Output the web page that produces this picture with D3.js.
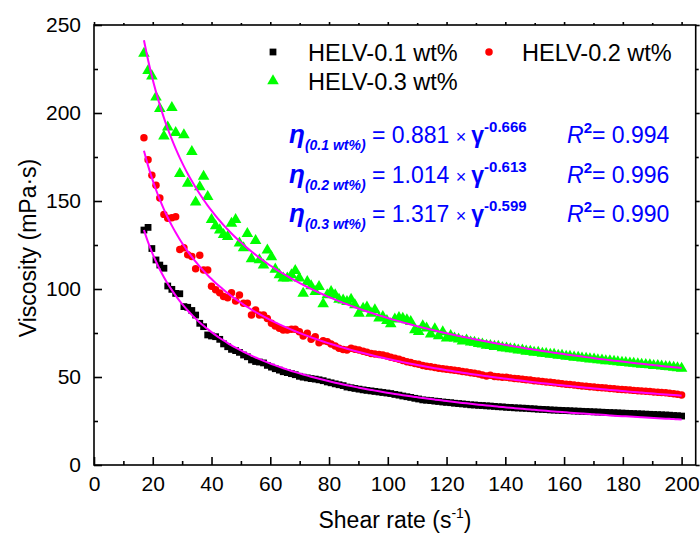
<!DOCTYPE html>
<html><head><meta charset="utf-8">
<script src="https://cdn.jsdelivr.net/npm/d3@7"></script>
<style>body{margin:0;background:#fff} svg{display:block} text{font-family:"Liberation Sans",Arial,Helvetica,sans-serif}</style>
</head><body><svg id="c" width="700" height="539"></svg>
<script>
const shearRate = [17.0,18.4,19.7,21.1,22.4,23.8,25.1,26.5,27.8,29.2,30.6,31.9,33.3,34.6,36.0,37.3,38.7,40.0,41.4,42.8,44.1,45.5,46.8,48.2,49.5,50.9,52.2,53.6,55.0,56.3,57.7,59.0,60.4,61.7,63.1,64.4,65.8,67.2,68.5,69.9,71.2,72.6,73.9,75.3,76.6,78.0,79.4,80.7,82.1,83.4,84.8,86.1,87.5,88.8,90.2,91.6,92.9,94.3,95.6,97.0,98.3,99.7,101.0,102.4,103.8,105.1,106.5,107.8,109.2,110.5,111.9,113.2,114.6,116.0,117.3,118.7,120.0,121.4,122.7,124.1,125.4,126.8,128.2,129.5,130.9,132.2,133.6,134.9,136.3,137.6,139.0,140.4,141.7,143.1,144.4,145.8,147.1,148.5,149.8,151.2,152.6,153.9,155.3,156.6,158.0,159.3,160.7,162.0,163.4,164.8,166.1,167.5,168.8,170.2,171.5,172.9,174.2,175.6,177.0,178.3,179.7,181.0,182.4,183.7,185.1,186.4,187.8,189.2,190.5,191.9,193.2,194.6,195.9,197.3,198.6,200.0];
const visc01 = [133.5,135.0,123.0,116.5,113.6,111.8,101.7,99.8,97.5,97.3,90.0,89.6,87.8,85.2,80.5,78.6,73.9,73.3,72.9,71.4,68.8,67.2,65.7,65.0,64.0,62.5,61.5,59.7,58.8,58.5,58.0,56.6,55.6,54.7,53.9,53.0,52.5,51.9,51.3,50.4,49.9,49.5,49.1,48.8,48.4,47.9,47.2,46.7,46.1,45.6,45.1,44.3,43.9,43.5,43.1,42.7,42.4,42.1,41.8,41.5,41.2,40.9,40.6,40.1,39.7,39.2,38.8,38.4,37.9,37.5,37.0,36.8,36.6,36.3,36.1,35.8,35.6,35.4,35.1,34.9,34.7,34.5,34.2,34.1,33.9,33.8,33.6,33.5,33.3,33.1,33.0,32.8,32.7,32.5,32.4,32.3,32.2,32.0,31.9,31.7,31.6,31.5,31.3,31.2,31.1,31.0,30.9,30.8,30.7,30.6,30.5,30.4,30.3,30.2,30.1,30.0,29.9,29.8,29.7,29.6,29.5,29.4,29.3,29.2,29.1,29.0,28.9,28.8,28.7,28.6,28.5,28.4,28.3,28.1,28.0,27.8];
const visc02 = [186.0,173.5,164.6,158.9,151.7,142.4,140.2,140.5,141.1,122.5,123.5,119.5,118.4,111.5,119.2,110.8,110.8,101.5,99.6,97.8,95.8,95.0,97.9,93.2,96.6,91.9,91.9,85.2,88.1,85.2,85.2,83.3,80.5,79.0,77.7,76.7,76.7,77.1,77.1,75.7,73.3,74.8,71.4,72.9,69.5,70.6,70.1,68.8,67.6,66.3,65.6,65.3,66.3,65.8,65.3,64.6,64.0,63.4,63.1,62.8,62.5,61.9,61.2,60.6,60.1,59.4,58.7,58.3,57.6,57.2,56.5,56.1,55.8,55.4,55.0,54.7,54.4,54.1,53.8,53.5,53.1,52.8,52.4,52.1,51.7,51.1,50.6,51.0,50.3,50.1,49.9,49.8,49.5,49.2,49.0,48.7,48.5,48.3,47.9,47.7,47.5,47.2,47.0,46.7,46.4,46.1,45.9,45.7,45.4,45.2,44.9,44.7,44.5,44.3,44.1,43.9,43.7,43.5,43.3,43.1,42.9,42.8,42.6,42.4,42.2,42.0,41.9,41.7,41.5,41.3,41.2,41.0,40.8,40.5,40.2,39.8];
const visc03 = [233.9,224.0,221.0,209.0,202.5,186.8,192.0,203.0,188.8,165.5,187.5,160.0,178.0,149.3,158.0,164.0,152.4,139.4,135.8,133.5,130.9,129.7,137.3,139.4,126.1,123.4,131.4,117.1,127.4,116.5,113.5,122.0,118.2,111.2,108.0,106.1,106.1,108.0,110.4,106.1,97.5,104.2,101.7,98.5,101.3,91.5,96.6,98.5,96.6,94.1,93.7,92.8,94.1,90.9,86.2,89.0,89.6,86.2,88.1,83.4,84.3,82.0,80.1,82.8,83.7,83.3,82.4,81.4,76.7,75.7,79.0,77.7,74.4,77.3,73.3,75.6,72.0,73.5,72.0,71.5,70.4,70.9,69.8,69.6,68.9,68.7,68.0,67.8,67.3,67.3,66.6,66.4,65.9,65.8,65.2,65.2,64.6,64.5,64.0,64.0,63.4,63.3,62.8,62.8,62.2,62.2,61.7,61.7,61.2,61.1,60.7,60.6,60.2,60.1,59.7,59.6,59.2,59.1,58.8,58.6,58.3,58.2,57.8,57.7,57.4,57.2,57.0,56.8,56.5,56.4,56.1,55.9,55.7,55.5,55.2,54.9];
const seriesNames = ["HELV-0.1 wt%","HELV-0.2 wt%","HELV-0.3 wt%"];
const seriesColors = ["#000000","#ff0000","#00ff00"];
const fitA = [0.881,1.014,1.317];
const fitB = [-0.666,-0.613,-0.599];
const fitR2 = ["0.994","0.996","0.990"];
const fitSub = ["(0.1 wt%)","(0.2 wt%)","(0.3 wt%)"];
const xTicks = [0,20,40,60,80,100,120,140,160,180,200];
const xMinor = [10,30,50,70,90,110,130,150,170,190];
const yTicks = [0,50,100,150,200,250];
const yMinor = [25,75,125,175,225];

const svg = d3.select("#c");
const L=94,R=695.7,T=25,B=465;
const x = d3.scaleLinear().domain([0,204.8]).range([L,R]);
const y = d3.scaleLinear().domain([0,250]).range([B,T]);

function styleAxis(g){g.selectAll("path,line").attr("stroke","#000").attr("stroke-width",1.6);g.select(".domain").remove();}
const gx = svg.append("g").attr("transform",`translate(0,${B})`)
  .call(d3.axisBottom(x).tickValues(xTicks).tickSize(-8).tickPadding(11).tickFormat(d3.format("d")));
gx.call(styleAxis); gx.selectAll("text").attr("font-size",21).attr("fill","#000");
svg.append("g").attr("transform",`translate(0,${B})`).call(d3.axisBottom(x).tickValues(xMinor).tickSize(-4).tickFormat("")).call(styleAxis);
const gy = svg.append("g").attr("transform",`translate(${L},0)`)
  .call(d3.axisLeft(y).tickValues(yTicks).tickSize(-8).tickPadding(13).tickFormat(d3.format("d")));
gy.call(styleAxis); gy.selectAll("text").attr("font-size",21).attr("fill","#000");
svg.append("g").attr("transform",`translate(${L},0)`).call(d3.axisLeft(y).tickValues(yMinor).tickSize(-4).tickFormat("")).call(styleAxis);
svg.append("g").attr("transform",`translate(0,${T})`).call(d3.axisTop(x).tickValues(xTicks).tickSize(3).tickFormat("")).call(styleAxis);
svg.append("g").attr("transform",`translate(0,${T})`).call(d3.axisTop(x).tickValues(xMinor).tickSize(2).tickFormat("")).call(styleAxis);
svg.append("g").attr("transform",`translate(${R},0)`).call(d3.axisRight(y).tickValues(yTicks).tickSize(4).tickFormat("")).call(styleAxis);
svg.append("g").attr("transform",`translate(${R},0)`).call(d3.axisRight(y).tickValues(yMinor).tickSize(3).tickFormat("")).call(styleAxis);
svg.append("rect").attr("x",L).attr("y",T).attr("width",R-L).attr("height",B-T)
  .attr("fill","none").attr("stroke","#000").attr("stroke-width",1.6);

const series = [visc01,visc02,visc03];
const shapes = [d3.symbolSquare,d3.symbolCircle,d3.symbolTriangle];
const sizes = [46,44,58];
series.forEach((vals,i)=>{
  svg.append("g").selectAll("path").data(shearRate.map((s,j)=>[s,vals[j]])).join("path")
    .attr("transform",d=>`translate(${x(d[0])},${y(d[1])})`)
    .attr("d",d3.symbol().type(shapes[i]).size(sizes[i]))
    .attr("fill",seriesColors[i]);
});

// fit curves from the displayed power-law parameters (Pa·s -> mPa·s)
const line = d3.line().x(d=>x(d[0])).y(d=>y(d[1])).curve(d3.curveMonotoneX);
fitA.forEach((a,i)=>{
  const pts = shearRate.map(s=>[s,a*1000*Math.pow(s,fitB[i])]);
  svg.append("path").datum(pts).attr("d",line).attr("fill","none")
    .attr("stroke","#ff00ff").attr("stroke-width",2);
});

const legPos = [[273,52,308,61],[489,52,522,61],[273,81,308,90]];
seriesNames.forEach((n,i)=>{
  const p = legPos[i];
  svg.append("path").attr("transform",`translate(${p[0]},${p[1]})`)
    .attr("d",d3.symbol().type(shapes[i]).size(sizes[i])).attr("fill",seriesColors[i]);
  svg.append("text").attr("x",p[2]).attr("y",p[3]).attr("font-size",23.5).attr("fill","#000").text(n);
});

const eqY = [143,182.5,222];
fitA.forEach((a,i)=>{
  const t = svg.append("text").attr("y",eqY[i]).attr("fill","#0000ff").attr("font-size",23);
  t.append("tspan").attr("x",289).attr("font-weight","bold").attr("font-style","italic").attr("font-size",26).text("η");
  t.append("tspan").attr("dy",7).attr("font-weight","bold").attr("font-style","italic").attr("font-size",14).text(fitSub[i]);
  t.append("tspan").attr("x",372).attr("dy",-7).text("= "+a.toFixed(3)+" ");
  t.append("tspan").attr("font-size",18).text("× ");
  t.append("tspan").attr("font-weight","bold").text("γ");
  t.append("tspan").attr("dy",-11).attr("font-weight","bold").attr("font-size",15).text(fitB[i].toFixed(3));
  t.append("tspan").attr("x",567).attr("dy",11).attr("font-style","italic").text("R");
  t.append("tspan").attr("dy",-10).attr("font-size",15).attr("font-weight","bold").text("2");
  t.append("tspan").attr("dy",10).text("= "+fitR2[i]);
});

const xt = svg.append("text").attr("x",395).attr("y",528).attr("text-anchor","middle").attr("font-size",23).attr("fill","#000");
xt.append("tspan").text("Shear rate (s");
xt.append("tspan").attr("dy",-10).attr("font-size",14).text("-1");
xt.append("tspan").attr("dy",10).text(")");
svg.append("text").attr("transform","translate(36,248) rotate(-90)").attr("text-anchor","middle")
  .attr("font-size",23).attr("fill","#000").text("Viscosity (mPa·s)");
</script></body></html>
